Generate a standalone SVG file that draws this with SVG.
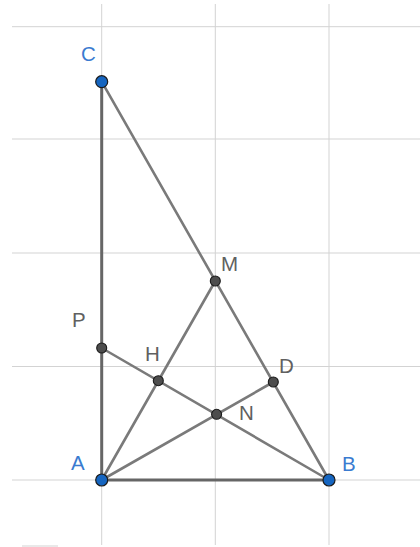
<svg xmlns="http://www.w3.org/2000/svg" width="420" height="547" viewBox="0 0 420 547">
<style>
.grid{stroke:#d3d3d3;stroke-width:1;fill:none}
.seg{stroke:#7a7a7a;stroke-width:2.6;fill:none;stroke-linecap:round}
.segd{stroke:#666;stroke-width:3;fill:none;stroke-linecap:round}
.free{fill:#1565c0;stroke:#1a1a1a;stroke-width:1.2}
.dep{fill:#4d4d4d;stroke:#1a1a1a;stroke-width:1.1}
.lb{font-family:"Liberation Sans",Arial,sans-serif;font-size:20.5px;fill:#3a7bd0}
.lg{font-family:"Liberation Sans",Arial,sans-serif;font-size:20.5px;fill:#606060}
</style>
<g id="grid">
<line class="grid" x1="12" y1="26.7" x2="420" y2="26.7"/>
<line class="grid" x1="12" y1="139" x2="420" y2="139"/>
<line class="grid" x1="12" y1="253" x2="420" y2="253"/>
<line class="grid" x1="12" y1="366.5" x2="420" y2="366.5"/>
<line class="grid" x1="12" y1="480" x2="420" y2="480"/>
<line class="grid" x1="101.7" y1="4" x2="101.7" y2="545"/>
<line class="grid" x1="215.3" y1="4" x2="215.3" y2="545"/>
<line class="grid" x1="329" y1="4" x2="329" y2="545"/>
<line class="grid" x1="22" y1="546" x2="58" y2="546"/>
</g>
<g id="connectors">
<line class="segd" x1="101.7" y1="81.7" x2="101.7" y2="480"/>
<line class="segd" x1="101.7" y1="480" x2="329" y2="480"/>
<line class="seg" x1="101.7" y1="81.7" x2="329" y2="480"/>
<line class="seg" x1="101.7" y1="480" x2="215.3" y2="281"/>
<line class="seg" x1="101.7" y1="480" x2="273.3" y2="382"/>
<line class="seg" x1="101.7" y1="348" x2="329" y2="480"/>
</g>
<g id="C"><circle class="free" cx="101.7" cy="81.7" r="6"/><text class="lb" x="81" y="61">C</text></g>
<g id="A"><circle class="free" cx="101.7" cy="480" r="6"/><text class="lb" x="71" y="470">A</text></g>
<g id="B"><circle class="free" cx="329" cy="480" r="6"/><text class="lb" x="342" y="471">B</text></g>
<g id="M"><circle class="dep" cx="215.3" cy="281" r="5"/><text class="lg" x="221" y="271">M</text></g>
<g id="P"><circle class="dep" cx="101.7" cy="348" r="5"/><text class="lg" x="72" y="327">P</text></g>
<g id="H"><circle class="dep" cx="158.3" cy="380.7" r="5"/><text class="lg" x="145" y="361">H</text></g>
<g id="D"><circle class="dep" cx="273.3" cy="382" r="5"/><text class="lg" x="279" y="373">D</text></g>
<g id="N"><circle class="dep" cx="216.6" cy="414.3" r="5"/><text class="lg" x="239" y="420">N</text></g>
</svg>
